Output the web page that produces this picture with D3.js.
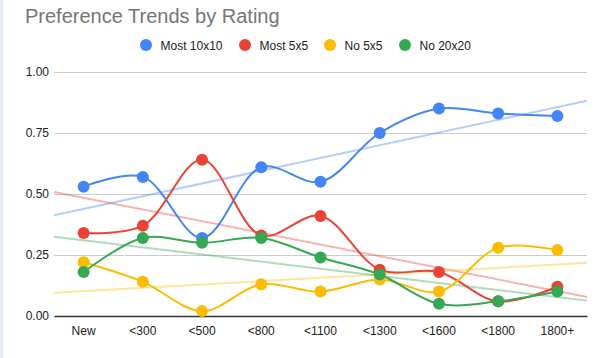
<!DOCTYPE html>
<html>
<head>
<meta charset="utf-8">
<script src="https://cdn.jsdelivr.net/npm/d3@7"></script>
<style>
  html, body { margin: 0; padding: 0; background: #fff; }
  svg { display: block; font-family: Arial, "Liberation Sans", sans-serif; }
</style>
</head>
<body>
<svg id="chart" width="613" height="358"></svg>
<script>
const categories = ["New", "<300", "<500", "<800", "<1100", "<1300", "<1600", "<1800", "1800+"];
const seriesNames = ["Most 10x10", "Most 5x5", "No 5x5", "No 20x20"];
const most10x10 = [0.53, 0.57, 0.32, 0.61, 0.55, 0.75, 0.85, 0.83, 0.82];
const most5x5   = [0.34, 0.37, 0.64, 0.33, 0.41, 0.19, 0.18, 0.06, 0.12];
const no5x5     = [0.22, 0.14, 0.02, 0.13, 0.10, 0.15, 0.10, 0.28, 0.27];
const no20x20   = [0.18, 0.32, 0.30, 0.32, 0.24, 0.17, 0.05, 0.06, 0.10];
// trendline values at the left and right edges of the plot
const trendStart = [0.413, 0.508, 0.095, 0.325];
const trendEnd   = [0.882, 0.078, 0.218, 0.063];
const yTicks = [0, 0.25, 0.5, 0.75, 1.0];
const colors = ["#4285F4", "#EA4335", "#FBBC04", "#34A853"];

const seriesValues = [most10x10, most5x5, no5x5, no20x20];

(function () {
const svg = d3.select("#chart");
const pL = 54, pR = 587, pT = 72, pB = 316;

// faint left border
svg.append("rect").attr("x", 0).attr("y", 0).attr("width", 3).attr("height", 358).attr("fill", "#e3eaf3");

const x = d3.scaleBand().domain(categories).range([pL, pR]);
const y = d3.scaleLinear().domain([0, 1]).range([pB, pT]);

// title
svg.append("text").attr("x", 25).attr("y", 23)
  .attr("font-size", 20).attr("fill", "#757575")
  .text("Preference Trends by Rating");

// legend
const legendX = [146, 245, 330, 405];
const lg = svg.append("g");
seriesNames.forEach((n, i) => {
  lg.append("circle").attr("cx", legendX[i]).attr("cy", 45).attr("r", 6).attr("fill", colors[i]);
  lg.append("text").attr("x", legendX[i] + 14.5).attr("y", 49.5)
    .attr("font-size", 12).attr("fill", "#222").text(n);
});

// gridlines
const yAxis = d3.axisLeft(y).tickValues(yTicks).tickFormat(d3.format(".2f")).tickSize(-(pR - pL)).tickPadding(5);
const gy = svg.append("g").attr("transform", `translate(${pL},0)`).call(yAxis);
gy.select(".domain").remove();
gy.selectAll(".tick line").attr("stroke", "#cccccc").attr("stroke-width", 1);
gy.selectAll(".tick text").attr("font-size", 12).attr("fill", "#222").attr("font-family", "Arial, 'Liberation Sans', sans-serif");

// x axis
const xAxis = d3.axisBottom(x).tickSize(0).tickPadding(10);
const gx = svg.append("g").attr("transform", `translate(0,${pB})`).call(xAxis);
gx.select(".domain").attr("stroke", "#333").attr("stroke-width", 1.5);
gx.selectAll(".tick text").attr("font-size", 12).attr("fill", "#222").attr("font-family", "Arial, 'Liberation Sans', sans-serif");

// trendlines
seriesNames.forEach((n, i) => {
  svg.append("line")
    .attr("x1", pL).attr("x2", pR)
    .attr("y1", y(trendStart[i])).attr("y2", y(trendEnd[i]))
    .attr("stroke", colors[i]).attr("stroke-opacity", 0.4).attr("stroke-width", 2);
});

// lines
const line = d3.line()
  .x((d, j) => x(categories[j]) + x.bandwidth() / 2)
  .y(d => y(d))
  .curve(d3.curveCatmullRom.alpha(0.5));

seriesValues.forEach((vals, i) => {
  svg.append("path").datum(vals).attr("d", line)
    .attr("fill", "none").attr("stroke", colors[i]).attr("stroke-width", 2);
});
seriesValues.forEach((vals, i) => {
  svg.append("g").selectAll("circle").data(vals).join("circle")
    .attr("cx", (d, j) => x(categories[j]) + x.bandwidth() / 2)
    .attr("cy", d => y(d))
    .attr("r", 6)
    .attr("fill", colors[i]);
});
})();
</script>
</body>
</html>
